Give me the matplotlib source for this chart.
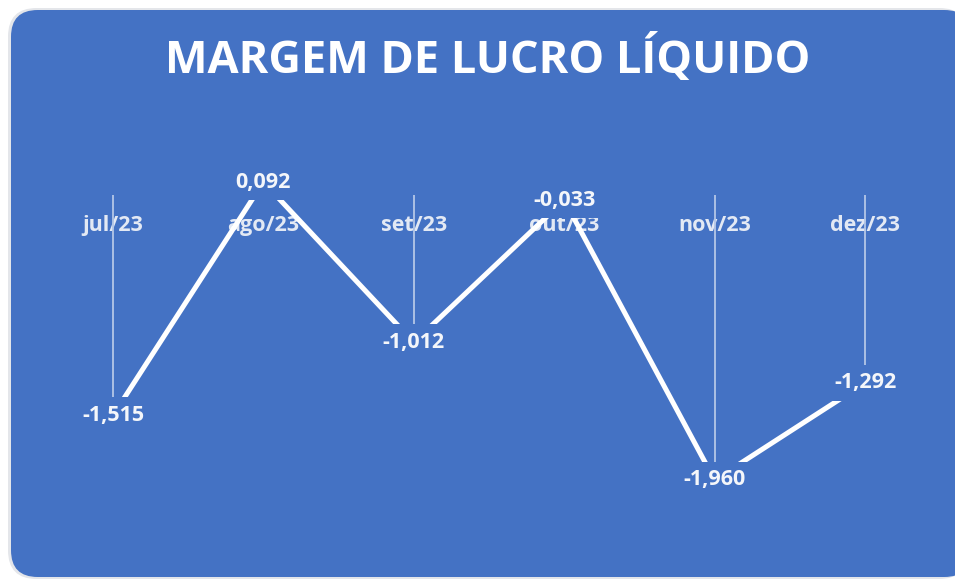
import matplotlib
matplotlib.use("Agg")
import matplotlib.pyplot as plt
from matplotlib.patches import FancyBboxPatch

categories = ["jul/23", "ago/23", "set/23", "out/23", "nov/23", "dez/23"]
values = [-1.515, 0.092, -1.012, -0.033, -1.960, -1.292]
value_labels = ["-1,515", "0,092", "-1,012", "-0,033", "-1,960", "-1,292"]
title = "MARGEM DE LUCRO LÍQUIDO"

BLUE = "#4472C4"
W, H = 955, 579
plt.rcParams["font.family"] = ["Open Sans", "DejaVu Sans"]

fig = plt.figure(figsize=(W / 100, H / 100), dpi=100)
fig.patch.set_facecolor("white")

# card background (with faint shadow)
shadow = FancyBboxPatch((8 / W, 0 / H), 960 / W, 571 / H,
                        boxstyle="round,pad=0,rounding_size=0.03",
                        transform=fig.transFigure, facecolor="#E4E6EA",
                        edgecolor="none", zorder=-2, mutation_aspect=W / H)
fig.patches.append(shadow)
card = FancyBboxPatch((11 / W, 2 / H), 960 / W, 567 / H,
                      boxstyle="round,pad=0,rounding_size=0.028",
                      transform=fig.transFigure, facecolor=BLUE,
                      edgecolor="none", zorder=-1, mutation_aspect=W / H)
fig.patches.append(card)

fig.text(488 / W, 1 - 60 / H, title, ha="center", va="center", color="white",
         fontsize=32.5, fontweight="bold", zorder=5)

# axes mapping: x unit = 150.4 px, y: pix = 195.4 - 145.2*v
xu = 150.4
yu = 145.2
xlo, xhi = -0.5, 5.5
ylo, yhi = -2.6, 0.5
left_px = 113 + xlo * xu
top_px = 195.4 - yhi * yu
bot_px = 195.4 - ylo * yu
ax = fig.add_axes([left_px / W, 1 - bot_px / H, (xhi - xlo) * xu / W, (bot_px - top_px) / H])
ax.set_zorder(2)
ax.set_xlim(xlo, xhi)
ax.set_ylim(ylo, yhi)
ax.patch.set_alpha(0)
for s in ax.spines.values():
    s.set_visible(False)
ax.spines["bottom"].set_position(("data", 0))
ax.set_yticks([])
x = list(range(len(categories)))
ax.set_xticks(x)
ax.set_xticklabels(categories, fontsize=15.5, fontweight="bold", color="#E3E9F4")
ax.tick_params(axis="x", length=0, pad=14)

ax.vlines(x, 0, values, color="#B4C7E7", lw=1.3, zorder=2)
ax.plot(x, values, color="white", lw=3.6, solid_capstyle="butt", zorder=3)

for xi, v, lab in zip(x, values, value_labels):
    ax.text(xi, v, lab, ha="center", va="center", fontsize=15.5, fontweight="bold",
            color="#F4F6FA", zorder=5,
            bbox=dict(boxstyle="square,pad=0.35", facecolor=BLUE, edgecolor="none"))

fig.savefig("out.png", dpi=100, facecolor=fig.get_facecolor())
